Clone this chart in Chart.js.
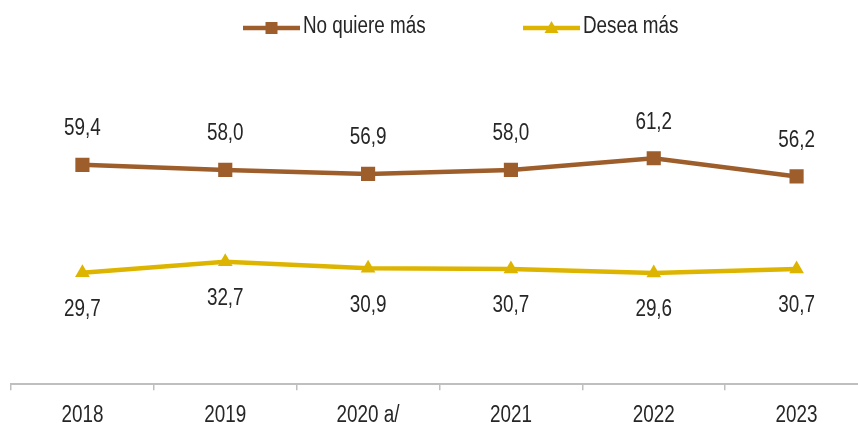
<!DOCTYPE html>
<html><head><meta charset="utf-8">
<script src="https://cdn.jsdelivr.net/npm/chart.js@4/dist/chart.umd.min.js"></script>
<style>html,body{margin:0;padding:0;background:#fff;overflow:hidden}#wrap{width:858px;height:423px;overflow:hidden}canvas{display:block}</style>
</head><body><div id="wrap"><canvas id="c" width="868" height="423"></canvas></div>
<script>
const categories = ['2018','2019','2020 a/','2021','2022','2023'];
const noQuiereMas = [59.4, 58.0, 56.9, 58.0, 61.2, 56.2];
const deseaMas = [29.7, 32.7, 30.9, 30.7, 29.6, 30.7];
const seriesNames = ['No quiere más', 'Desea más'];

const FONT = "'Liberation Sans',Arial,sans-serif";
const NARROW = 0.82;
const TEXT = '#262626';
const BROWN = '#9E5E2B';
const YELLOW = '#DDB500';

function fmt(v){ return v.toFixed(1).replace('.', ','); }

function narrowText(ctx, txt, x, y, align){
  ctx.save();
  ctx.translate(x, y);
  ctx.scale(NARROW, 1);
  ctx.textAlign = align || 'center';
  ctx.fillText(txt, 0, 0);
  ctx.restore();
}

const labelPlugin = {
  id: 'valLabels',
  afterDatasetsDraw(chart){
    const ctx = chart.ctx;
    ctx.save();
    ctx.font = '23px ' + FONT;
    ctx.fillStyle = TEXT;
    ctx.textBaseline = 'middle';
    chart.data.datasets.forEach((ds, i) => {
      const meta = chart.getDatasetMeta(i);
      meta.data.forEach((pt, j) => {
        const off = i === 0 ? -36 : 37;
        narrowText(ctx, fmt(ds.data[j]), pt.x, pt.y + off, 'center');
      });
    });
    // category labels, placed at the scale's own tick positions
    const xs = chart.scales.x;
    xs.ticks.forEach((t, k) => {
      narrowText(ctx, chart.data.labels[k], xs.getPixelForTick(k), xs.top + 31, 'center');
    });
    ctx.restore();
  }
};

const legendPlugin = {
  id: 'customLegend',
  afterDraw(chart){
    const ctx = chart.ctx;
    ctx.save();
    const y = 28;
    const items = [{x: 243, color: BROWN, shape: 'rect'}, {x: 523, color: YELLOW, shape: 'tri'}];
    items.forEach((it, i) => {
      ctx.strokeStyle = it.color;
      ctx.lineWidth = 4.5;
      ctx.beginPath(); ctx.moveTo(it.x, y); ctx.lineTo(it.x + 57, y); ctx.stroke();
      ctx.fillStyle = it.color;
      const cx = it.x + 28.5;
      if (it.shape === 'rect') { ctx.fillRect(cx - 6, y - 6, 12, 12); }
      else { ctx.beginPath(); ctx.moveTo(cx, y - 7); ctx.lineTo(cx + 7, y + 5); ctx.lineTo(cx - 7, y + 5); ctx.closePath(); ctx.fill(); }
      ctx.fillStyle = TEXT;
      ctx.font = '23px ' + FONT;
      ctx.textBaseline = 'middle';
      narrowText(ctx, chart.data.datasets[i].label, it.x + 60, y - 1, 'left');
    });
    ctx.restore();
  }
};

new Chart(document.getElementById('c'), {
  type: 'line',
  data: {
    labels: categories,
    datasets: [
      {label: seriesNames[0], data: noQuiereMas, borderColor: BROWN, backgroundColor: BROWN, borderWidth: 4.5,
       pointStyle: 'rect', pointRadius: 10, pointBorderWidth: 0, tension: 0},
      {label: seriesNames[1], data: deseaMas, borderColor: YELLOW, backgroundColor: YELLOW, borderWidth: 4.5,
       pointStyle: 'triangle', pointRadius: 8.5, pointBorderWidth: 0, tension: 0}
    ]
  },
  options: {
    responsive: false,
    animation: false,
    layout: {autoPadding: false, padding: {top: 90, left: 11, right: 0, bottom: 0}},
    plugins: {legend: {display: false}, tooltip: {enabled: false}},
    scales: {
      y: {display: false, min: -1, max: 80},
      x: {
        offset: true,
        grid: {offset: true, drawOnChartArea: false, drawTicks: true, tickLength: 6, color: '#bfbfbf', lineWidth: 1.5},
        border: {display: true, color: '#bfbfbf', width: 2},
        ticks: {color: 'rgba(0,0,0,0)', font: {family: FONT, size: 24}, padding: 2, maxRotation: 0}
      }
    }
  },
  plugins: [labelPlugin, legendPlugin]
});
</script></body></html>
